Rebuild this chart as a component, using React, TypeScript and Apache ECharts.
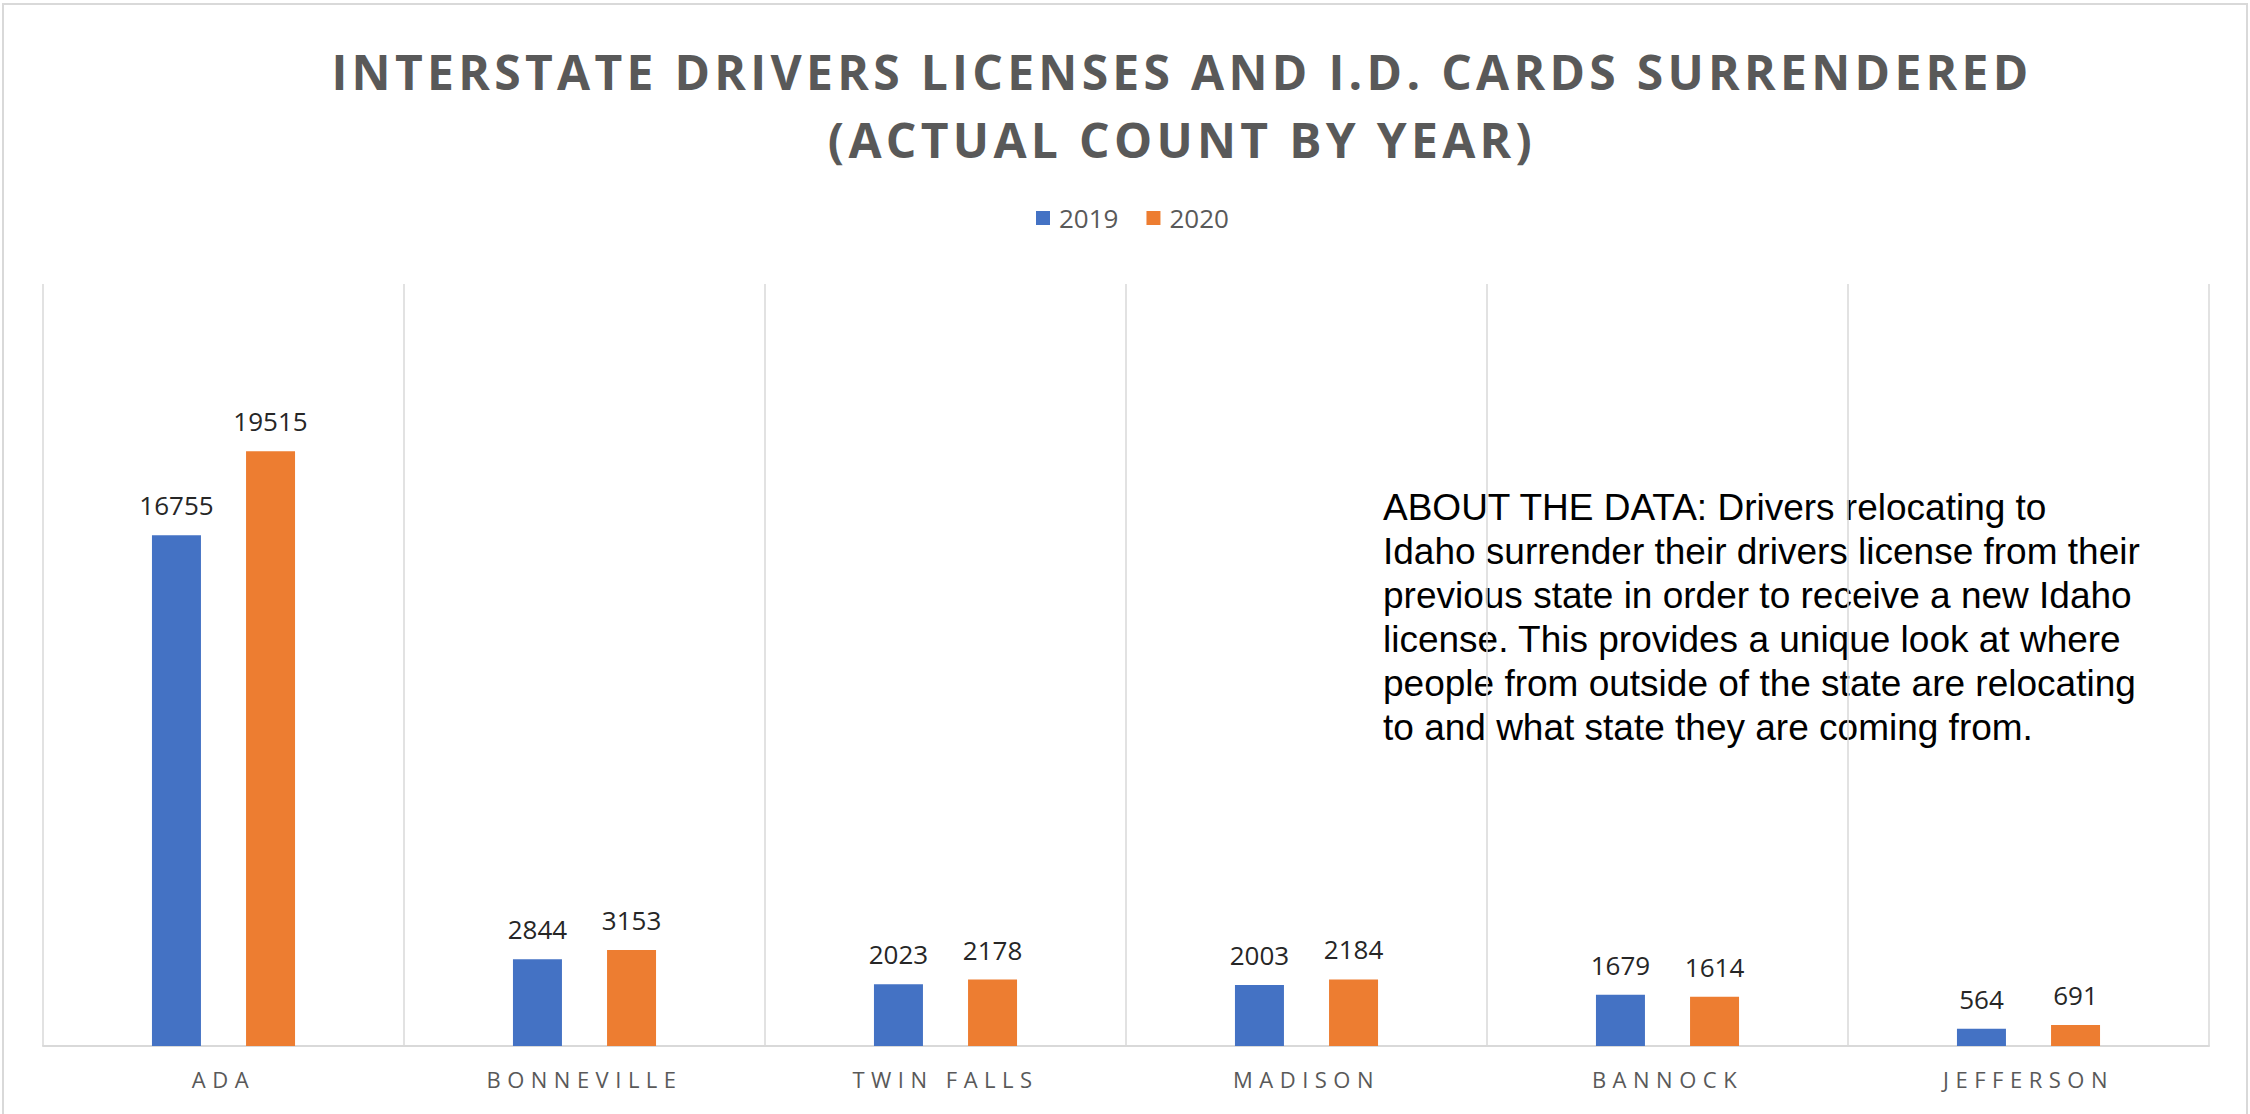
import React, { useEffect, useRef } from "react";
import * as echarts from "echarts";

const counties = ["ADA", "BONNEVILLE", "TWIN FALLS", "MADISON", "BANNOCK", "JEFFERSON"];
const seriesNames = ["2019", "2020"];
const values2019 = [16755, 2844, 2023, 2003, 1679, 564];
const values2020 = [19515, 3153, 2178, 2184, 1614, 691];
const seriesColors = ["#4472C4", "#ED7D31"];
const titleLines = [
  "INTERSTATE DRIVERS LICENSES AND I.D. CARDS SURRENDERED",
  "(ACTUAL COUNT BY YEAR)",
];
const noteLines = [
  "ABOUT THE DATA: Drivers relocating to",
  "Idaho surrender their drivers license from their",
  "previous state in order to receive a new Idaho",
  "license. This provides a unique look at where",
  "people from outside of the state are relocating",
  "to and what state they are coming from.",
];
const yMax = 25000;

const TITLE_SPACING = 4.3;
const LABEL_SPACING = 6.5;

export default function App() {
  const ref = useRef<HTMLDivElement>(null);

  useEffect(() => {
    if (!ref.current) return;
    const chart = echarts.init(ref.current, null, { renderer: "svg" });

    const applySpacing = () => {
      const root = ref.current;
      if (!root) return;
      root.querySelectorAll("text").forEach((t) => {
        const s = (t.textContent || "").trim();
        if (titleLines.includes(s)) t.setAttribute("letter-spacing", String(TITLE_SPACING));
        else if (counties.includes(s)) t.setAttribute("letter-spacing", String(LABEL_SPACING));
      });
    };

    const labelStyle = {
      show: true,
      position: "top",
      distance: 17,
      color: "#262626",
      fontSize: 26,
      fontFamily: "Open Sans",
    };

    chart.setOption({
      animation: false,
      backgroundColor: "#ffffff",
      textStyle: { fontFamily: "Open Sans" },
      grid: { left: 43, right: 41, top: 284, bottom: 68, containLabel: false },
      legend: {
        data: seriesNames,
        left: 1031,
        top: 200,
        icon: "rect",
        itemWidth: 14,
        itemHeight: 14,
        itemGap: 28,
        textStyle: { color: "#595959", fontSize: 26, fontFamily: "Open Sans", padding: [0, 0, 0, 4] },
      },
      xAxis: {
        type: "category",
        data: counties,
        axisLine: { show: true, lineStyle: { color: "#d9d9d9", width: 2 } },
        axisTick: { show: false },
        splitLine: { show: true, lineStyle: { color: "#d9d9d9", width: 1.5 } },
        axisLabel: { color: "#595959", fontSize: 22, fontFamily: "Open Sans", margin: 22 },
      },
      yAxis: {
        type: "value",
        min: 0,
        max: yMax,
        show: false,
        splitLine: { show: false },
      },
      series: [
        {
          name: seriesNames[0],
          type: "bar",
          data: values2019,
          barWidth: 49,
          barGap: "92%",
          itemStyle: { color: seriesColors[0] },
          label: labelStyle,
        },
        {
          name: seriesNames[1],
          type: "bar",
          data: values2020,
          barWidth: 49,
          barGap: "92%",
          itemStyle: { color: seriesColors[1] },
          label: labelStyle,
        },
      ],
      graphic: [
        {
          type: "rect",
          silent: true,
          shape: { x: 3, y: 4, width: 2244, height: 1200 },
          style: { fill: "none", stroke: "#d9d9d9", lineWidth: 2 },
        },
        {
          type: "text",
          x: 1182,
          y: 71,
          style: {
            text: titleLines[0],
            fill: "#595959",
            font: 'bold 48px "Open Sans"',
            textAlign: "center",
            textVerticalAlign: "middle",
          },
        },
        {
          type: "text",
          x: 1182,
          y: 139,
          style: {
            text: titleLines[1],
            fill: "#595959",
            font: 'bold 48px "Open Sans"',
            textAlign: "center",
            textVerticalAlign: "middle",
          },
        },
        {
          type: "text",
          x: 1383,
          y: 485,
          style: {
            text: noteLines.join("\n"),
            fill: "#000000",
            font: '37px "Liberation Sans"',
            lineHeight: 44,
            textAlign: "left",
            textVerticalAlign: "top",
          },
        },
      ],
    });

    chart.on("finished", applySpacing);
    applySpacing();
    const t = setTimeout(applySpacing, 50);

    return () => {
      clearTimeout(t);
      chart.dispose();
    };
  }, []);

  return (
    <div
      ref={ref}
      style={{ position: "fixed", left: 0, top: 0, width: 2250, height: 1114, background: "#fff" }}
    />
  );
}
